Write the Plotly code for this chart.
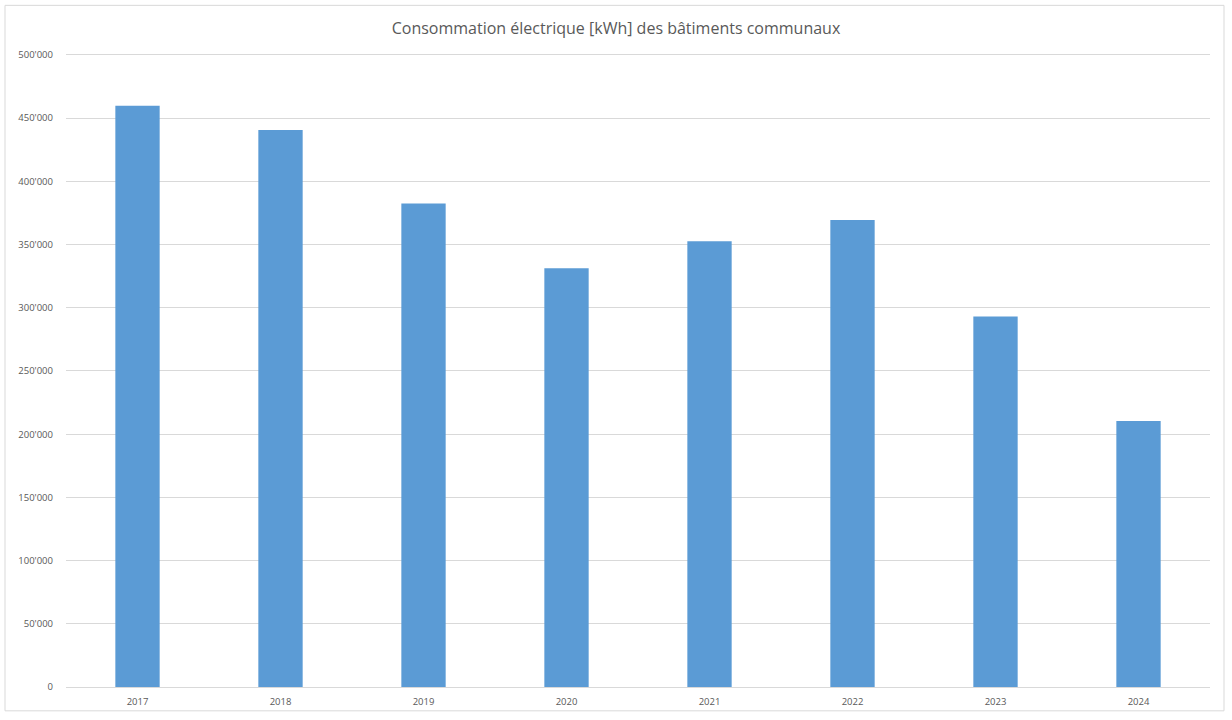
import plotly.graph_objects as go

years = ["2017", "2018", "2019", "2020", "2021", "2022", "2023", "2024"]
consumption_kwh = [459800, 440700, 382400, 331200, 352700, 369500, 293100, 210400]
y_tick_values = [0, 50000, 100000, 150000, 200000, 250000, 300000, 350000, 400000, 450000, 500000]
y_tick_labels = ["0", "50'000", "100'000", "150'000", "200'000", "250'000",
                 "300'000", "350'000", "400'000", "450'000", "500'000"]
title_text = "Consommation électrique [kWh] des bâtiments communaux"

W, H = 1232, 720
ml, mr, mt, mb = 66, 22, 51, 28
pw, ph = W - ml - mr, H - mt - mb
ymax = 500000 * (ph / (ph - 4))

fig = go.Figure(go.Bar(
    x=years, y=consumption_kwh,
    marker=dict(color="#5B9BD5", line=dict(width=0)),
    width=0.31,
))

fig.update_layout(
    width=W, height=H,
    margin=dict(l=ml, r=mr, t=mt, b=mb),
    paper_bgcolor="white", plot_bgcolor="white",
    font=dict(family="Open Sans, Liberation Sans, Arial, sans-serif", color="#595959", size=10),
    title=dict(text=title_text, x=(616 - ml) / pw, xref="paper", xanchor="center",
               y=(H - 28) / H, yref="container", yanchor="middle",
               font=dict(size=16, color="#595959")),
    showlegend=False,
    shapes=[dict(type="rect", xref="paper", yref="paper",
                 x0=(5 - ml) / pw, x1=(1224 - ml) / pw,
                 y0=-(716 - (H - mb)) / ph, y1=((H - mb) - 5) / ph,
                 line=dict(color="#d9d9d9", width=1), fillcolor="rgba(0,0,0,0)",
                 layer="below")],
)
fig.update_xaxes(type="category", showgrid=False, showline=True, linecolor="#d9d9d9",
                 ticks="", ticklabelstandoff=6, tickfont=dict(size=9.5, color="#595959"))
fig.update_yaxes(range=[0, ymax], tickvals=y_tick_values, ticktext=y_tick_labels,
                 showgrid=True, gridcolor="#d9d9d9", gridwidth=1, zeroline=False,
                 showline=False, ticks="", ticklabelstandoff=12,
                 tickfont=dict(size=9.5, color="#595959"))

fig.write_html("out.html", config={"displayModeBar": False},
               post_script="document.body.style.margin='0';document.body.style.overflow='hidden';")
